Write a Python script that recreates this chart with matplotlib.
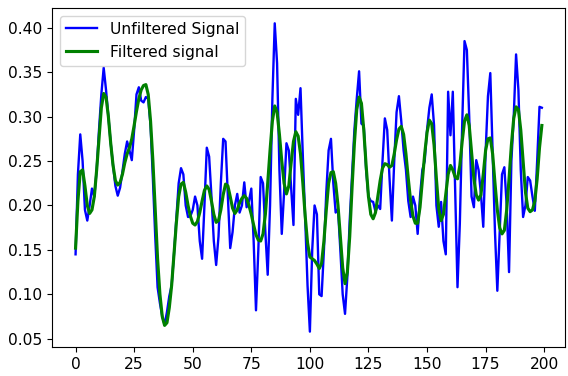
import matplotlib
matplotlib.use('Agg')
import matplotlib.pyplot as plt

# raw samples (200 points)
unfiltered = [
    0.145, 0.235, 0.280, 0.250, 0.195, 0.183, 0.200, 0.219, 0.210, 0.240,
    0.285, 0.325, 0.355, 0.330, 0.300, 0.270, 0.245, 0.222, 0.211, 0.220,
    0.238, 0.258, 0.272, 0.262, 0.251, 0.285, 0.325, 0.333, 0.318, 0.316,
    0.322, 0.320, 0.290, 0.230, 0.165, 0.108, 0.090, 0.075, 0.066, 0.080,
    0.098, 0.110, 0.145, 0.185, 0.225, 0.242, 0.235, 0.200, 0.187, 0.188,
    0.195, 0.210, 0.200, 0.160, 0.140, 0.200, 0.265, 0.255, 0.210, 0.160,
    0.133, 0.165, 0.225, 0.275, 0.272, 0.210, 0.152, 0.170, 0.200, 0.213,
    0.192, 0.200, 0.226, 0.198, 0.205, 0.219, 0.160, 0.082, 0.150, 0.232,
    0.225, 0.170, 0.122, 0.200, 0.320, 0.405, 0.360, 0.240, 0.168, 0.215,
    0.270, 0.262, 0.220, 0.178, 0.320, 0.302, 0.332, 0.255, 0.185, 0.110,
    0.058, 0.150, 0.200, 0.190, 0.100, 0.098, 0.150, 0.215, 0.262, 0.275,
    0.225, 0.192, 0.196, 0.150, 0.100, 0.078, 0.120, 0.183, 0.235, 0.285,
    0.320, 0.351, 0.292, 0.290, 0.240, 0.210, 0.205, 0.204, 0.193, 0.200,
    0.196, 0.250, 0.298, 0.285, 0.230, 0.183, 0.250, 0.305, 0.323, 0.295,
    0.262, 0.240, 0.205, 0.187, 0.210, 0.200, 0.168, 0.210, 0.240, 0.250,
    0.285, 0.310, 0.325, 0.290, 0.200, 0.176, 0.204, 0.160, 0.145, 0.328,
    0.279, 0.328, 0.220, 0.108, 0.180, 0.290, 0.385, 0.375, 0.300, 0.210,
    0.198, 0.251, 0.240, 0.213, 0.176, 0.260, 0.323, 0.349, 0.260, 0.170,
    0.104, 0.170, 0.235, 0.243, 0.200, 0.125, 0.250, 0.300, 0.370, 0.330,
    0.240, 0.187, 0.200, 0.232, 0.228, 0.210, 0.194, 0.250, 0.311, 0.310,
]

# smoothed output
filtered = [
    0.152, 0.205, 0.238, 0.240, 0.222, 0.200, 0.191, 0.195, 0.210, 0.240,
    0.275, 0.310, 0.326, 0.322, 0.300, 0.270, 0.245, 0.228, 0.223, 0.226,
    0.235, 0.248, 0.258, 0.265, 0.275, 0.290, 0.306, 0.320, 0.330, 0.335,
    0.336, 0.325, 0.295, 0.250, 0.195, 0.140, 0.100, 0.075, 0.065, 0.068,
    0.085, 0.110, 0.145, 0.180, 0.210, 0.224, 0.226, 0.215, 0.200, 0.188,
    0.180, 0.178, 0.182, 0.192, 0.205, 0.217, 0.222, 0.218, 0.205, 0.190,
    0.181, 0.183, 0.195, 0.212, 0.224, 0.222, 0.210, 0.197, 0.191, 0.195,
    0.203, 0.208, 0.211, 0.208, 0.200, 0.190, 0.178, 0.167, 0.161, 0.160,
    0.168, 0.190, 0.225, 0.262, 0.295, 0.312, 0.305, 0.280, 0.250, 0.225,
    0.213, 0.222, 0.248, 0.272, 0.283, 0.278, 0.258, 0.225, 0.188, 0.158,
    0.142, 0.140, 0.138, 0.134, 0.129, 0.135, 0.160, 0.195, 0.225, 0.237,
    0.238, 0.225, 0.200, 0.165, 0.130, 0.112, 0.125, 0.165, 0.220, 0.270,
    0.308, 0.322, 0.315, 0.285, 0.245, 0.210, 0.190, 0.185, 0.192, 0.210,
    0.228, 0.242, 0.247, 0.246, 0.243, 0.245, 0.258, 0.274, 0.286, 0.289,
    0.280, 0.258, 0.230, 0.205, 0.188, 0.180, 0.180, 0.198, 0.228, 0.258,
    0.282, 0.296, 0.292, 0.268, 0.230, 0.196, 0.183, 0.190, 0.212, 0.235,
    0.245, 0.240, 0.232, 0.230, 0.245, 0.272, 0.295, 0.302, 0.290, 0.260,
    0.230, 0.212, 0.206, 0.212, 0.235, 0.262, 0.275, 0.276, 0.258, 0.225,
    0.195, 0.175, 0.168, 0.172, 0.195, 0.230, 0.268, 0.298, 0.311, 0.308,
    0.285, 0.250, 0.215, 0.197, 0.193, 0.195, 0.205, 0.230, 0.265, 0.290,
]

plt.rcParams['font.size'] = 11.2

fig = plt.figure(figsize=(5.68, 3.76), dpi=100)
plt.subplots_adjust(left=0.092, right=0.995, bottom=0.077, top=0.979)

plt.plot(unfiltered, color='b', linewidth=1.7, label='Unfiltered Signal')
plt.plot(filtered, color='g', linewidth=2.25, label='Filtered signal')
plt.legend(loc='upper left')

plt.savefig('out.png', dpi=100)
